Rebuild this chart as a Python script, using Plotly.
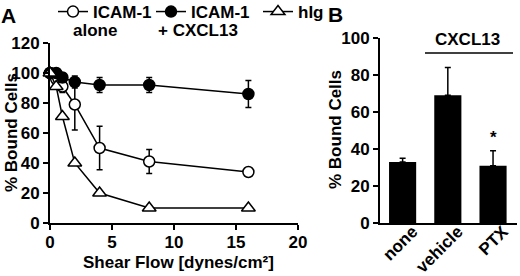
import plotly.graph_objects as go

# Panel A data
shear = [0, 0.5, 1, 2, 4, 8, 16]
icam_alone = [100, 96, 91, 79, 50, 41, 34]
icam_alone_err = [0, 3, 4, 17, 14.5, 8, 0]
icam_cxcl13 = [100, 100, 97, 94, 92, 92, 86]
icam_cxcl13_err = [2, 3, 3, 4, 5, 5, 9]
hig = [100, 91, 71, 40, 20, 10, 10]

# Panel B data
conditions = ["none", "vehicle", "PTX"]
bound_b = [33, 69, 31]
bound_b_err = [2, 15, 8]

FONT = "Liberation Sans, Arial, Helvetica, sans-serif"
W, H = 520, 276
FS = 17

fig = go.Figure()

err_style = dict(type="data", color="black", thickness=1.5, width=3)

fig.add_trace(go.Scatter(
    x=shear, y=icam_alone, mode="lines+markers", name="ICAM-1", legend="legend",
    line=dict(color="black", width=1.5),
    marker=dict(symbol="circle", size=11, color="white", line=dict(color="black", width=1.5)),
    error_y=dict(array=icam_alone_err, **err_style),
    cliponaxis=False, xaxis="x", yaxis="y"))
fig.add_trace(go.Scatter(
    x=shear, y=icam_cxcl13, mode="lines+markers", name="ICAM-1", legend="legend2",
    line=dict(color="black", width=1.5),
    marker=dict(symbol="circle", size=11, color="black", line=dict(color="black", width=1.5)),
    error_y=dict(array=icam_cxcl13_err, **err_style),
    cliponaxis=False, xaxis="x", yaxis="y"))
fig.add_trace(go.Scatter(
    x=shear, y=hig, mode="lines+markers", name="hIg", legend="legend3",
    line=dict(color="black", width=1.5),
    marker=dict(symbol="triangle-up", size=12, color="white", line=dict(color="black", width=1.5)),
    cliponaxis=False, xaxis="x", yaxis="y"))

fig.add_trace(go.Bar(
    x=conditions, y=bound_b, width=0.6, marker=dict(color="black", line=dict(width=0)),
    error_y=dict(type="data", array=bound_b_err, arrayminus=[0, 0, 0], symmetric=False,
                 color="black", thickness=1.5, width=3),
    showlegend=False, xaxis="x2", yaxis="y2"))

axis_common = dict(showline=True, linecolor="black", linewidth=2, showgrid=False, zeroline=False,
                   ticks="outside", ticklen=5, tickwidth=2, tickcolor="black", automargin=False,
                   tickfont=dict(family=FONT, size=FS, color="black", weight="bold"))

legend_common = dict(orientation="h", y=1 + 6 / H, xanchor="left", yanchor="top",
                     valign="top", bgcolor="rgba(0,0,0,0)",
                     font=dict(family=FONT, size=FS, color="black", weight="bold"),
                     itemwidth=30)

fig.update_layout(
    width=W, height=H, margin=dict(l=0, r=0, t=0, b=0, autoexpand=False),
    paper_bgcolor="white", plot_bgcolor="white",
    font=dict(family=FONT, size=FS, color="black", weight="bold"),
    xaxis=dict(domain=[50 / W, 298 / W], range=[0, 20], tickvals=[0, 5, 10, 15, 20],
               anchor="y", **{**axis_common, "ticklabelstandoff": -2}),
    yaxis=dict(domain=[53 / H, 233 / H], range=[0, 120], tickvals=[0, 20, 40, 60, 80, 100, 120],
               anchor="x", **axis_common),
    xaxis2=dict(domain=[380 / W, 517 / W], range=[-0.5, 2.53], anchor="y2",
                **{**axis_common, "ticks": "", "tickangle": -45,
                   "ticklabelstandoff": -10, "ticklabelshift": 10}),
    yaxis2=dict(domain=[53 / H, 238 / H], range=[0, 100], tickvals=[0, 20, 40, 60, 80, 100],
                anchor="x2", **axis_common),
    legend=dict(x=53 / W, **legend_common),
    legend2=dict(x=151 / W, **legend_common),
    legend3=dict(x=258 / W, **legend_common),
    showlegend=True,
)

ann = []
ann.append(dict(text="A", x=8 / W, y=1 - 15 / H, xref="paper", yref="paper", showarrow=False,
                font=dict(family=FONT, size=21, weight="bold"), xanchor="center", yanchor="middle"))
ann.append(dict(text="B", x=335 / W, y=1 - 14 / H, xref="paper", yref="paper", showarrow=False,
                font=dict(family=FONT, size=21, weight="bold"), xanchor="center", yanchor="middle"))
ann.append(dict(text="alone", x=95 / W, y=1 - 30 / H, xref="paper", yref="paper", showarrow=False,
                font=dict(family=FONT, size=FS, weight="bold"), xanchor="center", yanchor="middle"))
ann.append(dict(text="+ CXCL13", x=198 / W, y=1 - 30 / H, xref="paper", yref="paper", showarrow=False,
                font=dict(family=FONT, size=FS, weight="bold"), xanchor="center", yanchor="middle"))
ann.append(dict(text="% Bound Cells", x=12 / W, y=1 - 133 / H, xref="paper", yref="paper",
                showarrow=False, textangle=-90, xanchor="center", yanchor="middle",
                font=dict(family=FONT, size=FS, weight="bold")))
ann.append(dict(text="% Bound Cells", x=335 / W, y=1 - 130 / H, xref="paper", yref="paper",
                showarrow=False, textangle=-90, xanchor="center", yanchor="middle",
                font=dict(family=FONT, size=FS, weight="bold")))
ann.append(dict(text="Shear Flow [dynes/cm²]", x=178 / W, y=1 - 262 / H, xref="paper", yref="paper",
                showarrow=False, xanchor="center", yanchor="middle",
                font=dict(family=FONT, size=FS, weight="bold")))
ann.append(dict(text="CXCL13", x=467 / W, y=1 - 40 / H, xref="paper", yref="paper",
                showarrow=False, xanchor="center", yanchor="middle",
                font=dict(family=FONT, size=FS, weight="bold")))
ann.append(dict(text="*", x="PTX", y=bound_b[2] + bound_b_err[2] + 1, xref="x2", yref="y2",
                showarrow=False, xanchor="center", yanchor="bottom",
                font=dict(family=FONT, size=FS, weight="bold")))
fig.update_layout(annotations=ann)

fig.add_shape(type="line", x0=425 / W, x1=513 / W, y0=1 - 53 / H, y1=1 - 53 / H,
              xref="paper", yref="paper", line=dict(color="black", width=1.5))

fig.write_html("out.html", post_script="document.body.style.margin='0';",
               config={"displayModeBar": False})
